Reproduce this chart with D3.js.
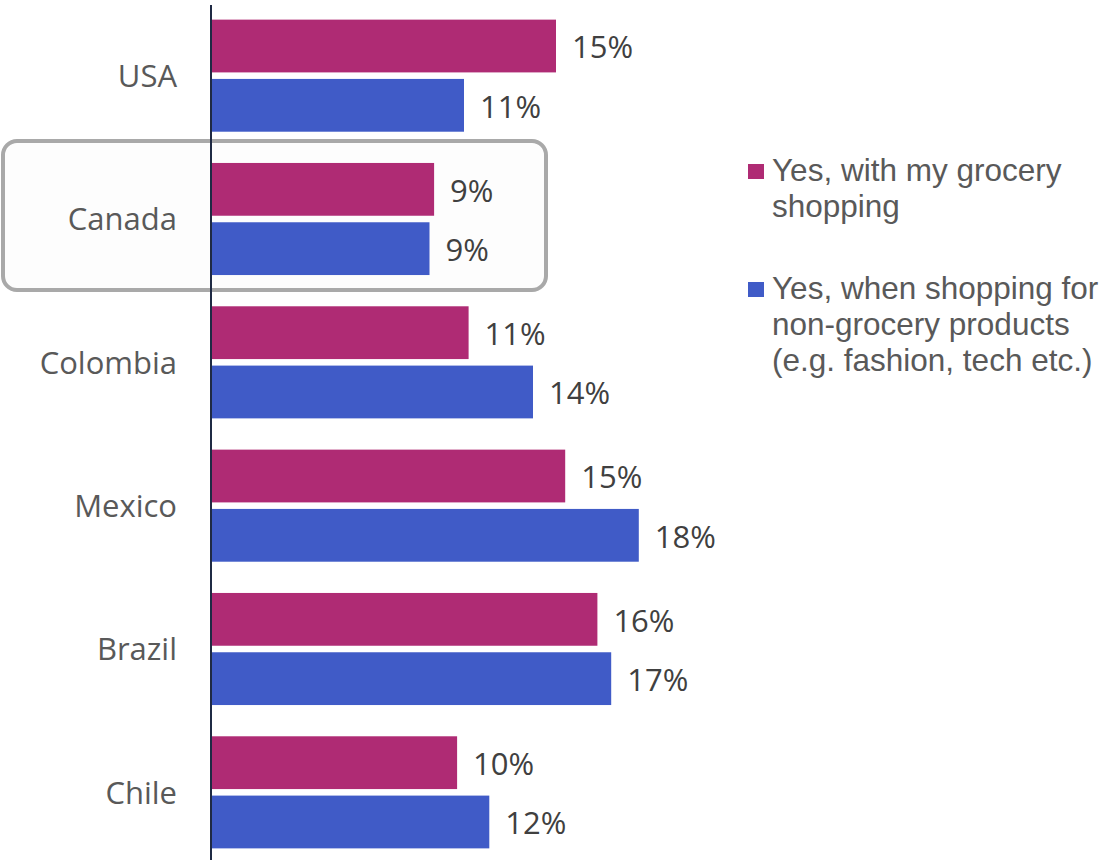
<!DOCTYPE html>
<html><head>
<meta charset="utf-8">
<script src="https://d3js.org/d3.v7.min.js"></script>
<style>
  body { margin: 0; background: #fff; }
  .cat text { font-family: "Open Sans", sans-serif; font-size: 31px; fill: #595959; }
  .val { font-family: "Open Sans", sans-serif; font-size: 31px; fill: #404040; }
  .legend text { font-family: "Liberation Sans", Arial, sans-serif; font-size: 31.5px; fill: #595959; }
</style>
</head>
<body>
<svg id="chart" width="1107" height="860"></svg>
<script>
// data
const countries = ["USA", "Canada", "Colombia", "Mexico", "Brazil", "Chile"];
const grocery    = [15.0, 9.7, 11.2, 15.4, 16.8, 10.7];
const nonGrocery = [11.0, 9.5, 14.0, 18.6, 17.4, 12.1];
const groceryLabels    = ["15%", "9%", "11%", "15%", "16%", "10%"];
const nonGroceryLabels = ["11%", "9%", "14%", "18%", "17%", "12%"];
const seriesNames = ["Yes, with my grocery shopping",
                     "Yes, when shopping for non-grocery products (e.g. fashion, tech etc.)"];
const legendLines = [["Yes, with my grocery", "shopping"],
                     ["Yes, when shopping for", "non-grocery products", "(e.g. fashion, tech etc.)"]];
const colors = ["#AF2B74", "#405BC7"];

const rows = countries.map((c, i) => ({
  country: c,
  vals: [
    {s: 0, v: grocery[i], label: groceryLabels[i]},
    {s: 1, v: nonGrocery[i], label: nonGroceryLabels[i]}
  ]
}));

let svg = d3.select("svg#chart");
const axisX = 211;

let x = d3.scaleLinear().domain([0, 20]).range([axisX, axisX + 460]);
let y = d3.scaleBand().domain(countries).range([4, 864])
          .paddingInner(0.218).paddingOuter(0.109);
let ySub = d3.scaleBand().domain([0, 1]).range([0, y.bandwidth()]).paddingInner(0.11);
let color = d3.scaleOrdinal().domain([0, 1]).range(colors);

// highlight box round Canada
svg.append("rect")
   .attr("x", 3).attr("y", 141).attr("width", 543).attr("height", 149)
   .attr("rx", 14)
   .attr("fill", "#fdfdfd")
   .attr("stroke", "#a9a9a9").attr("stroke-width", 4);

let groups = svg.selectAll("g.country").data(rows)
   .join("g")
   .attr("class", "country")
   .attr("transform", d => `translate(0,${y(d.country)})`);

groups.selectAll("rect").data(d => d.vals)
   .join("rect")
   .attr("x", x(0))
   .attr("y", d => ySub(d.s))
   .attr("width", d => x(d.v) - x(0))
   .attr("height", ySub.bandwidth())
   .attr("fill", d => color(d.s));

groups.selectAll("text.val").data(d => d.vals)
   .join("text")
   .attr("class", "val")
   .attr("x", d => x(d.v) + 16)
   .attr("y", d => ySub(d.s) + ySub.bandwidth() / 2)
   .attr("dy", "0.4em")
   .text(d => d.label);

// category axis
let leftAxis = d3.axisLeft(y).tickSize(0).tickPadding(34);
let ax = svg.append("g").attr("class", "cat")
   .attr("transform", `translate(${axisX},0)`)
   .call(leftAxis);
ax.select(".domain").remove();
ax.selectAll("text").attr("dy", "0.36em");

svg.append("line")
   .attr("x1", axisX).attr("x2", axisX)
   .attr("y1", 5).attr("y2", 860)
   .attr("stroke", "#1f2a44").attr("stroke-width", 2);

// legend
const legendTop = [164, 282];
let legend = svg.append("g").attr("class", "legend");
let items = legend.selectAll("g").data(legendLines)
   .join("g")
   .attr("transform", (d, i) => `translate(748,${legendTop[i]})`);
items.append("rect")
   .attr("width", 16).attr("height", 15)
   .attr("fill", (d, i) => colors[i]);
items.append("text")
   .attr("x", 24).attr("y", 17)
   .selectAll("tspan").data(d => d)
   .join("tspan")
   .attr("x", 24)
   .attr("dy", (d, i) => i === 0 ? 0 : 36)
   .text(d => d);
items.append("title").text((d, i) => seriesNames[i]);
</script>
</body></html>
